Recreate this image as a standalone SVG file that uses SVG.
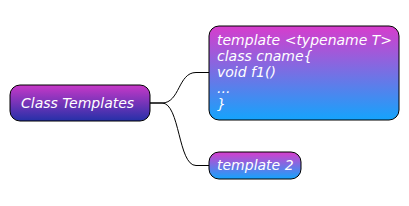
<svg xmlns="http://www.w3.org/2000/svg" width="409" height="206" viewBox="0 0 409 206">
<defs>
<linearGradient id="gRoot" x1="0" y1="0" x2="0" y2="1">
<stop offset="0" stop-color="#c838c8"/>
<stop offset="1" stop-color="#2430a8"/>
</linearGradient>
<linearGradient id="gLeaf" x1="0" y1="0" x2="0" y2="1">
<stop offset="0" stop-color="#d83ccc"/>
<stop offset="1" stop-color="#14a4fc"/>
</linearGradient>
<style>
.box{stroke:#000;stroke-width:1}
.t{font-family:"DejaVu Sans",sans-serif;font-style:italic;font-size:14px;fill:#fff}
.c{fill:none;stroke:#000;stroke-width:1}
</style>
</defs>
<g id="connectors">
<path class="c" d="M150,103 L162,103 C180,103 178,72.5 196,72.5 L209,72.5"/>
<path class="c" d="M150,103 L162,103 C180,103 178,165.5 196,165.5 L209,165.5"/>
</g>
<g id="root">
<rect class="box" x="10" y="85" width="140" height="36" rx="10" fill="url(#gRoot)"/>
<text class="t" x="21" y="108">Class Templates</text>
</g>
<g id="node1">
<rect class="box" x="209" y="26" width="190" height="94" rx="10" fill="url(#gLeaf)"/>
<text class="t" x="217" y="44.5">template &lt;typename T&gt;</text>
<text class="t" x="217" y="60.5">class cname{</text>
<text class="t" x="217" y="76.5">void f1()</text>
<text class="t" x="217" y="92.5">...</text>
<text class="t" x="217" y="108.5">}</text>
</g>
<g id="node2">
<rect class="box" x="209" y="152" width="92" height="27" rx="10" fill="url(#gLeaf)"/>
<text class="t" x="217" y="170">template 2</text>
</g>
</svg>
